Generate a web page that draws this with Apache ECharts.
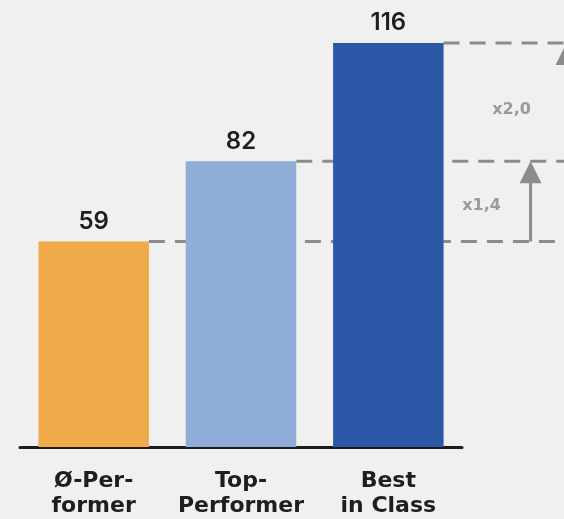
<!DOCTYPE html>
<html>
<head>
<meta charset="utf-8">
<script src="https://cdn.jsdelivr.net/npm/echarts@6/dist/echarts.min.js"></script>
<style>
  html, body { margin: 0; padding: 0; background: #eff0ef; }
  #chart { width: 564px; height: 519px; }
</style>
</head>
<body>
<div id="chart"></div>
<script>
// Performance levels and their values
const categories = ['Ø-Per-\nformer', 'Top-\nPerformer', 'Best\nin Class'];
const values = [59, 82, 116];
const barColors = ['#efab4a', '#8fadd8', '#2b59a7'];

// Multiplier annotations: arrow from one level to the next, with its label
const arrowFrom = [59, 82];
const arrowTo = [82, 116];
const arrowLabels = ['x1,4', 'x2,0'];

const GUIDE = '#8c8c8c';
const BAR_RATIO = 0.75;

const chart = echarts.init(document.getElementById('chart'), null, { renderer: 'canvas' });

// Dashed guide from the right edge of each bar to the chart's right border
function renderGuide(params, api) {
  const idx = api.value(0);
  const pt = api.coord([idx, api.value(1)]);
  const band = api.size([1, 0])[0];
  return {
    type: 'line',
    shape: { x1: pt[0] + band * BAR_RATIO / 2, y1: pt[1], x2: api.getWidth(), y2: pt[1] },
    style: { stroke: GUIDE, lineWidth: 3, lineDash: [16, 10] }
  };
}

// Vertical arrows and multiplier labels right of the last bar
const arrowOffsets = [87, 123];
const labelOffsets = [38, 68];
function renderArrow(params, api) {
  const i = params.dataIndex;
  const lastIdx = categories.length - 1;
  const band = api.size([1, 0])[0];
  const edge = api.coord([lastIdx, 0])[0] + band * BAR_RATIO / 2;
  const yLow = api.coord([lastIdx, api.value(0)])[1];
  const yHigh = api.coord([lastIdx, api.value(1)])[1];
  const x = edge + arrowOffsets[i];
  const head = 22, halfW = 11;
  return {
    type: 'group',
    children: [
      {
        type: 'line',
        shape: { x1: x, y1: yLow, x2: x, y2: yHigh + head - 2 },
        style: { stroke: GUIDE, lineWidth: 3 }
      },
      {
        type: 'polygon',
        shape: { points: [[x, yHigh], [x - halfW, yHigh + head], [x + halfW, yHigh + head]] },
        style: { fill: GUIDE }
      },
      {
        type: 'text',
        x: edge + labelOffsets[i],
        y: (yLow + yHigh) / 2 + (i === 1 ? 8 : 4),
        style: {
          text: arrowLabels[i],
          fill: '#9a9a9a',
          font: 'bold 16px "DejaVu Sans"',
          align: 'center',
          verticalAlign: 'middle'
        }
      }
    ]
  };
}

chart.setOption({
  backgroundColor: '#eff0ef',
  animation: false,
  grid: { left: 20, right: 102, top: 29, bottom: 72 },
  xAxis: {
    type: 'category',
    data: categories,
    axisLine: { show: true, lineStyle: { color: '#1c1c1c', width: 3 } },
    axisTick: { show: false },
    axisLabel: {
      interval: 0,
      margin: 22,
      color: '#1e1e1e',
      fontFamily: 'DejaVu Sans',
      fontWeight: 'bold',
      fontSize: 22,
      lineHeight: 25
    }
  },
  yAxis: {
    type: 'value',
    min: 0,
    max: 120,
    show: false,
    splitLine: { show: false }
  },
  series: [
    {
      type: 'custom',
      renderItem: renderGuide,
      data: values.map((v, i) => [i, v]),
      clip: false,
      z: 1,
      silent: true
    },
    {
      type: 'bar',
      barWidth: (BAR_RATIO * 100) + '%',
      z: 2,
      data: values.map((v, i) => ({ value: v, itemStyle: { color: barColors[i] } })),
      label: {
        show: true,
        position: 'top',
        distance: 8,
        color: '#1e1e1e',
        fontFamily: 'Inter',
        fontWeight: 600,
        fontSize: 24
      }
    },
    {
      type: 'custom',
      renderItem: renderArrow,
      data: arrowFrom.map((v, i) => [v, arrowTo[i]]),
      clip: false,
      z: 3,
      silent: true
    }
  ]
});
</script>
</body>
</html>
